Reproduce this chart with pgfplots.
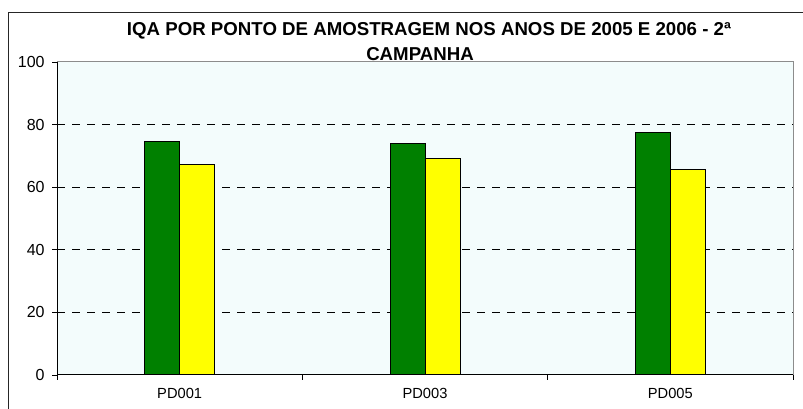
\documentclass[border=0pt]{standalone}
\usepackage{fontspec}
\setmainfont{Liberation Sans}
\usepackage{pgfplots}
\pgfplotsset{compat=1.18}
\definecolor{iqagreen}{HTML}{008000}
\definecolor{iqayellow}{HTML}{FFFF00}
\definecolor{plotbg}{HTML}{F3FCFC}
\definecolor{bordergray}{HTML}{8C8C8C}

\begin{document}
\begin{tikzpicture}[x=0.75pt,y=0.75pt]
\useasboundingbox (0,0) rectangle (803,409);
% chart frame, right and bottom edges lie outside the image
\draw[black!85, line width=0.75pt] (8,-10) -- (8,396) -- (815,396);

\begin{axis}[
  at={(42.75pt,25.5pt)}, anchor=south west,
  scale only axis, width=552pt, height=234.75pt,
  xmin=-0.5, xmax=2.5, ymin=0, ymax=100,
  ybar=0pt, bar width=26.25pt,
  axis background/.style={fill=plotbg},
  axis line style={draw=bordergray, line width=0.75pt},
  tick align=outside,
  xtick pos=left, ytick pos=left,
  major tick length=3.75pt,
  tick style={black, line width=0.6pt},
  /pgf/number format/assume math mode=true,
  ytick={0,20,40,60,80,100},
  yticklabel style={font=\fontsize{12}{14}\selectfont, xshift=-2pt},
  extra y ticks={20,40,60,80},
  extra y tick labels={},
  extra y tick style={grid=major, major tick length=0pt},
  grid style={black, line width=0.6pt, dash pattern=on 6pt off 5.25pt},
  xtick={-0.5,0.5,1.5,2.5},
  xticklabels={},
  extra x ticks={0,1,2},
  extra x tick labels={PD001,PD003,PD005},
  extra x tick style={major tick length=0pt, grid=none,
    xticklabel style={font=\fontsize{11}{13}\selectfont, anchor=base, yshift=-18pt}},
  clip=false,
]
  \addplot[draw=black, line width=0.75pt, fill=iqagreen] coordinates {(0,74.7) (1,73.9) (2,77.5)};
  \addplot[draw=black, line width=0.75pt, fill=iqayellow] coordinates {(0,67.1) (1,69.2) (2,65.5)};
  \draw[black, line width=0.75pt] (rel axis cs:0,1) -- (rel axis cs:0,0) -- (rel axis cs:1,0);
\end{axis}

\node[anchor=base, font=\bfseries\fontsize{14}{16}\selectfont] at (429,373)
  {IQA POR PONTO DE AMOSTRAGEM NOS ANOS DE 2005 E 2006 - 2ª};
\node[anchor=base, font=\bfseries\fontsize{14}{16}\selectfont] at (420,348) {CAMPANHA};
\end{tikzpicture}
\end{document}
